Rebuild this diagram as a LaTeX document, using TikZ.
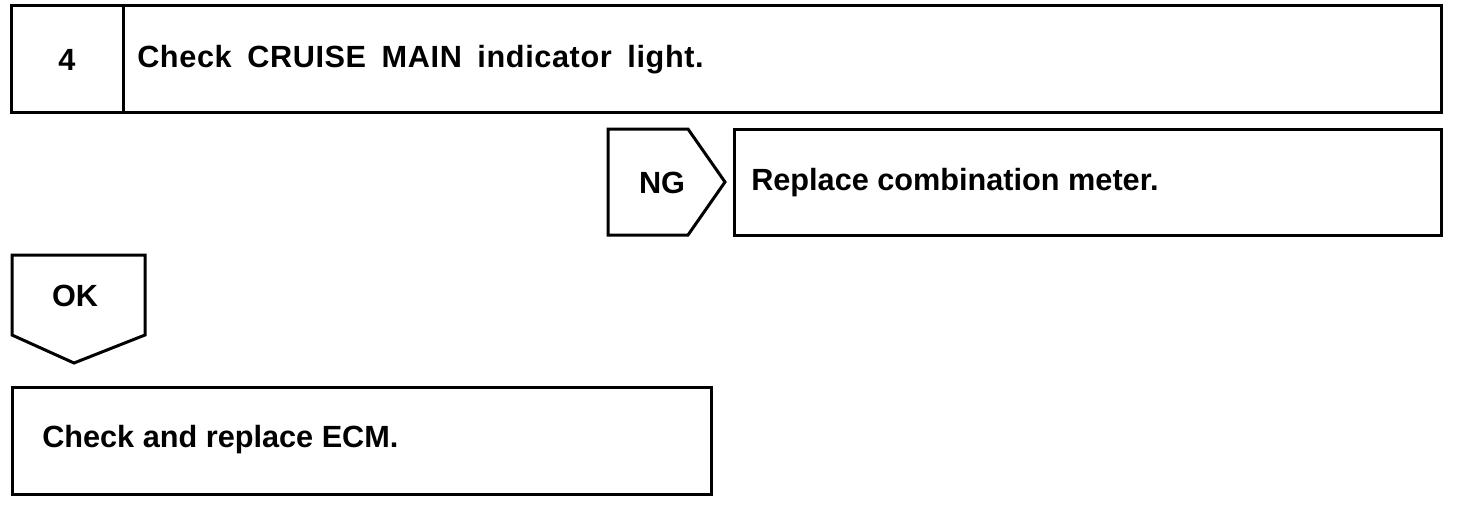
\documentclass[tikz,border=0pt]{standalone}
\usepackage{fontspec}
\setmainfont{Liberation Sans}
\newfontfamily\widefont[WordSpace=1.7,LetterSpace=2.0]{Liberation Sans}
\usepackage{tikz}

\begin{document}
\begin{tikzpicture}[x=0.75pt,y=0.75pt,yscale=-1,xscale=1,
  frame/.style={line width=2.25pt, line join=miter},
  txt/.style={anchor=west, inner sep=0pt, font=\bfseries\fontsize{23}{27}\selectfont},
  mid/.style={anchor=center, inner sep=0pt, font=\bfseries\fontsize{23}{27}\selectfont}]
\path (0,0) rectangle (1472,504); %set diagram size

%Top box with step number
\draw [frame] (11,5) rectangle (1441,112) ;
\draw [frame] (123,5) -- (123,112) ;
%NG tab
\draw [frame] (608,129) -- (688,129) -- (725,182) -- (688,235) -- (608,235) -- cycle ;
\draw [frame] (734,129) rectangle (1441,235) ;
%OK tab
\draw [frame] (12,255) -- (145,255) -- (145,335) -- (74,363) -- (12,335) -- cycle ;
\draw [frame] (12,387) rectangle (711,494) ;

% Text Node
\node [mid] (num) at (67,60) {4};
% Text Node
\node [txt] (chk) at (137,60) {\widefont\bfseries Check CRUISE MAIN indicator light.};
% Text Node
\node [mid] (ng) at (662,183) {NG};
% Text Node
\node [txt] (rep) at (751,183) {Replace combination meter.};
% Text Node
\node [mid] (ok) at (75,296) {OK};
% Text Node
\node [txt] (ecm) at (42,440) {Check and replace ECM.};

\end{tikzpicture}
\end{document}
